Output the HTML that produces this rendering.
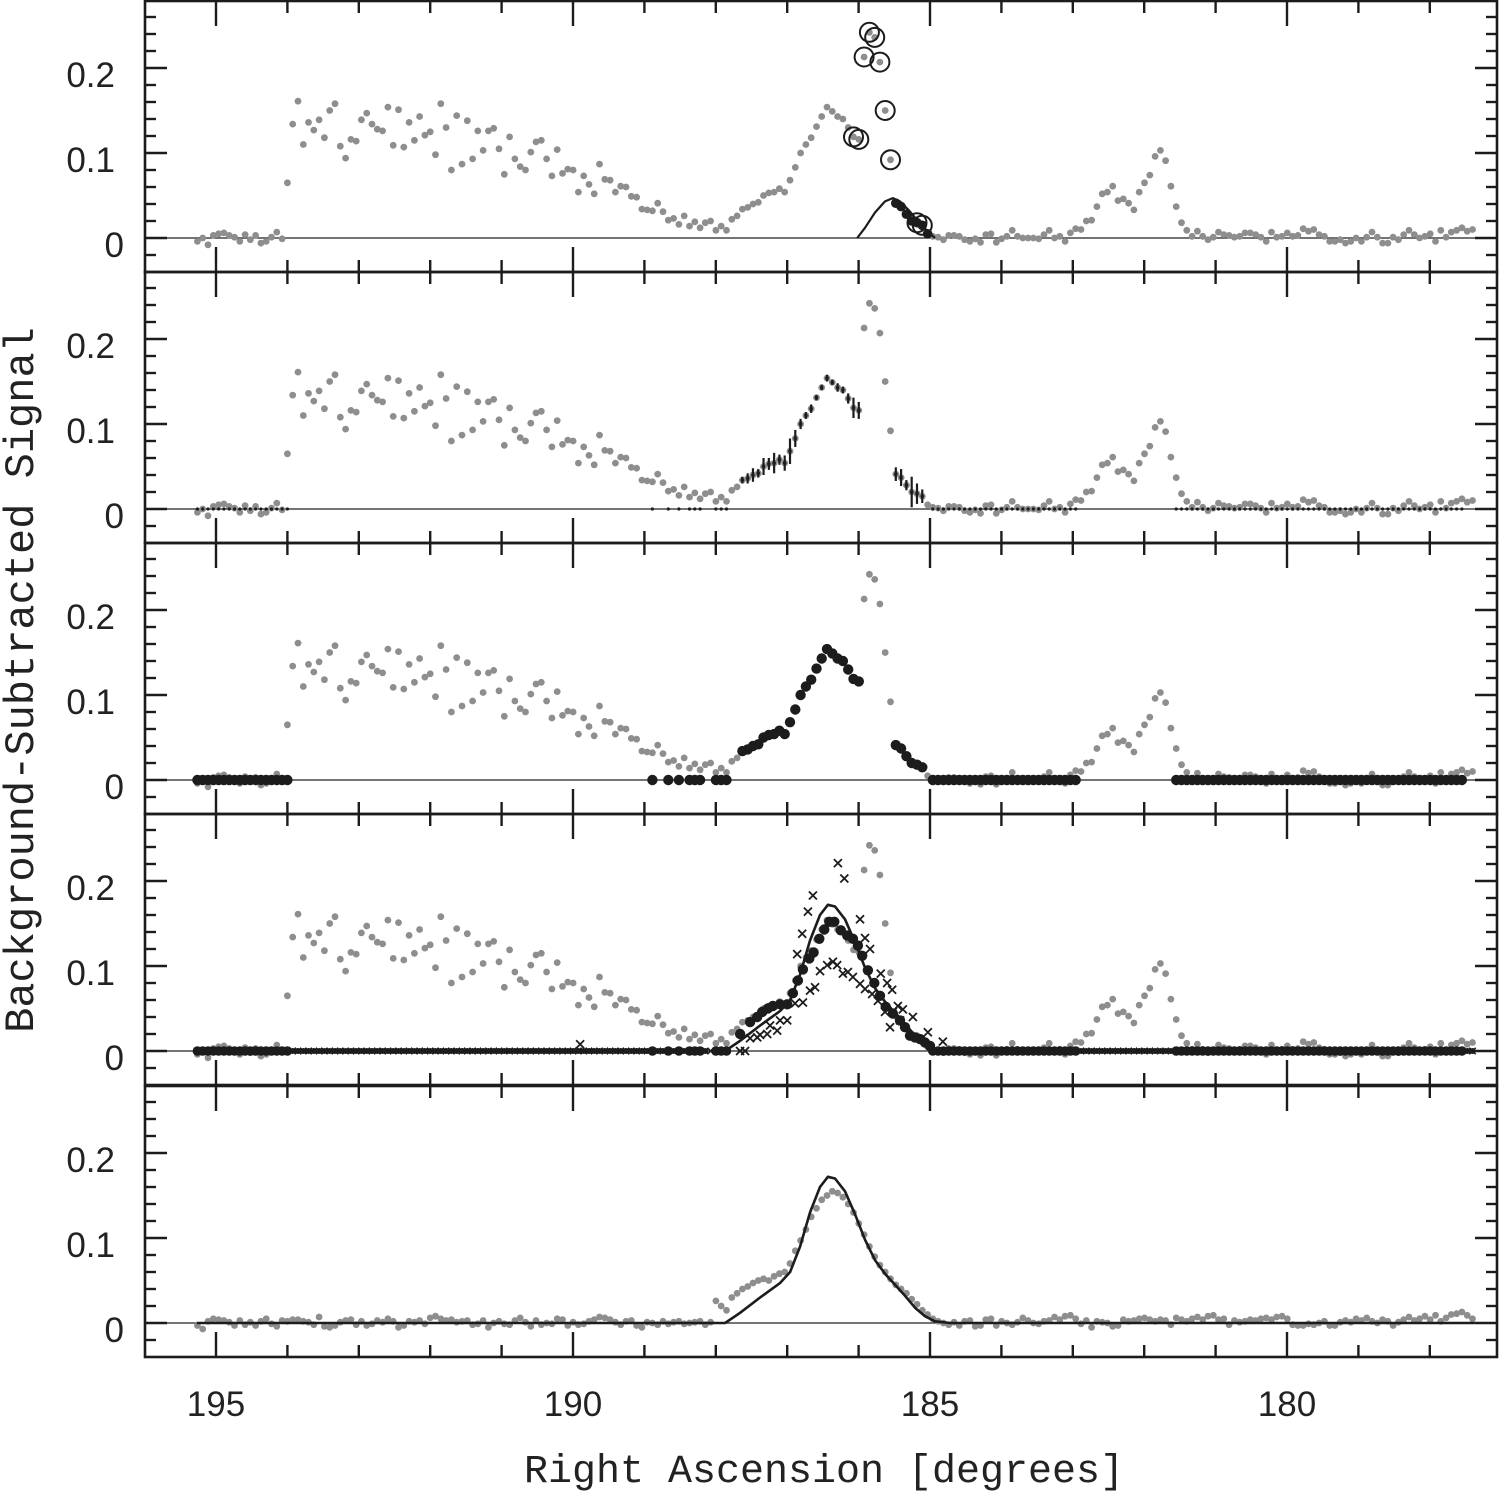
<!DOCTYPE html>
<html><head><meta charset="utf-8"><style>
html,body{margin:0;padding:0;background:#fff;}
svg{display:block;}
</style></head><body>
<svg id="chart" xmlns="http://www.w3.org/2000/svg" width="1503" height="1493" viewBox="0 0 1503 1493">
<rect x="0" y="0" width="1503" height="1493" fill="#fff"/>
<g id="marks"></g>
<g id="axes"></g>
<text x="22" y="680" transform="rotate(-90 22 680)" text-anchor="middle" dominant-baseline="middle" font-family="'Liberation Mono', monospace" font-size="42" fill="#222">Background-Subtracted Signal</text>
<text x="824" y="1482" text-anchor="middle" font-family="'Liberation Mono', monospace" font-size="40" fill="#222">Right Ascension [degrees]</text>
</svg>
<script>
// ---- data ----
const raStart = 195.26;
const raStep = 0.0741;
const grayVals = [-0.004,0.0,-0.008,0.003,0.005,0.006,0.003,0.001,-0.004,0.004,-0.002,0.003,-0.006,-0.004,0.001,0.007,-0.001,
0.065,0.134,0.161,0.110,0.136,0.127,0.139,0.118,0.150,0.158,0.108,0.094,0.116,0.114,0.139,0.147,0.134,0.128,0.126,0.154,0.109,0.151,0.107,
0.136,0.115,0.143,0.121,0.125,0.098,0.158,0.130,0.080,0.144,0.087,0.138,0.093,0.126,0.103,0.126,0.129,0.105,0.075,0.119,0.093,0.084,0.080,
0.101,0.113,0.115,0.093,0.073,0.104,0.076,0.081,0.080,0.054,0.073,0.063,0.052,0.087,0.069,0.068,0.054,0.061,0.060,0.049,0.048,0.034,0.033,
0.032,0.041,0.031,0.021,0.023,0.016,0.026,0.014,0.019,0.012,0.018,0.020,0.009,0.014,0.009,0.022,0.026,0.034,
0.036,0.040,0.042,0.050,0.053,0.054,0.058,0.054,0.068,0.083,0.100,0.110,0.118,0.131,0.143,0.154,0.149,0.143,0.140,0.130,0.119,0.116,
0.213,0.242,0.236,0.207,0.150,0.092,0.041,0.037,0.028,0.020,0.018,0.015,0.005,
0.002,0.001,-0.002,0.003,0.003,0.002,-0.002,-0.004,-0.001,-0.005,0.004,0.005,-0.005,-0.001,0.002,0.009,0.002,0,0,0,-0.001,0.004,0.009,
0,0.002,-0.004,0.006,0.011,0.01,0.02,0.021,0.037,0.052,0.054,0.061,0.044,0.046,0.041,0.033,0.054,0.065,0.074,0.096,
0.103,0.091,0.061,0.037,0.018,0.009,0.002,0.008,0.002,
-0.002,0.001,0.007,0.004,0.003,0.001,0.002,0.006,0.006,0.004,0.001,-0.004,0.007,0.001,0.002,0.006,0.002,0.003,0.011,0.008,
0.01,0.004,0.002,-0.004,-0.004,-0.002,-0.006,-0.004,0,-0.004,0.001,0.007,0.001,-0.006,-0.006,0.001,-0.002,0.004,0.009,0.004,
0,0.002,0.005,-0.004,0.009,0.001,0.007,0.009,0.012,0.008,0.01];
const resVals = [-0.003,-0.007,0.002,0.005,0.004,0.003,0.001,-0.003,0.003,-0.002,0.001,-0.003,0.002,0.005,-0.001,-0.004,0.003,0.002,0.004,0.004,
0.002,0.001,-0.002,0.007,-0.004,-0.005,-0.003,0.001,0.003,0.004,-0.002,0.002,-0.003,-0.001,0.003,0.001,0.005,0.002,-0.005,-0.003,
0.002,0.001,0.003,-0.001,0.006,0.008,0.005,0.003,0.004,0.001,0.002,0.003,-0.002,-0.001,0.003,-0.005,0.000,0.002,-0.001,-0.002,
0.003,0.006,0.001,-0.004,0.003,-0.002,0.000,-0.001,0.005,0.004,-0.003,0.001,-0.002,-0.001,0.002,0.004,0.007,0.006,0.004,0.001,
-0.002,0.002,0.003,-0.003,-0.005,0.001,0.000,-0.002,0.002,-0.001,0.001,0.002,-0.001,0.000,0.001,0.002,-0.002,0.001,
0.026,0.020,0.015,0.030,0.035,0.040,0.043,0.047,0.050,0.052,0.050,0.055,0.058,0.060,0.070,0.085,0.097,0.110,0.125,0.135,
0.145,0.150,0.155,0.153,0.148,0.140,0.130,0.117,0.104,0.090,0.078,0.068,0.060,0.052,0.045,0.040,0.035,0.028,0.022,0.015,0.010,0.005,0.002,
0.000,-0.002,0.001,-0.003,0.002,0.003,-0.004,-0.003,0.004,0.005,-0.003,0.002,0.000,-0.002,0.001,0.006,0.003,0.000,-0.001,0.002,
0.003,0.007,0.004,0.008,0.009,0.005,-0.001,0.003,-0.005,0.002,0.001,0.000,-0.004,-0.003,0.004,0.002,0.003,0.005,0.006,0.004,
0.002,0.004,0.003,-0.002,0.006,0.004,0.002,0.005,0.007,0.004,0.008,0.009,0.004,0.005,-0.002,0.003,0.001,0.002,0.004,0.003,
0.005,0.006,0.004,0.007,0.008,0.005,-0.002,-0.003,-0.003,-0.001,-0.002,0.000,0.002,-0.003,-0.003,0.001,0.003,0.001,0.005,0.003,
0.006,0.002,0.000,0.004,0.002,-0.003,0.001,0.004,0.007,0.003,0.005,0.008,0.004,0.009,0.002,0.006,0.010,0.011,0.013,0.009,0.005];
const bandIdx = [103,104,105,106,107,108,109,110,111,112,113,114,115,116,117,118,119,120,121,122,123,124,125,132,133,134,135,136,137];
const errP2 = [0.004,0.006,0.008,0.005,0.010,0.007,0.012,0.006,0.009,0.015,0.010,0.006,0.004,0.005,0.003,0.003,0.004,0.003,0.005,0.004,0.006,0.012,0.010,0.008,0.010,0.006,0.018,0.012,0.008];
const zeroIdx = [0,1,2,3,4,5,6,7,8,9,10,11,12,13,14,15,16,17,86,89,91,93,94,95,98,99,100,
139,140,141,142,143,144,145,146,147,148,149,150,151,152,153,154,155,156,157,158,159,160,161,162,163,164,165,166,
185,186,187,188,189,190,191,192,193,194,195,196,197,198,199,200,201,202,203,204,205,206,207,208,209,210,
211,212,213,214,215,216,217,218,219,220,221,222,223,224,225,226,227,228,229,230,231,232,233,234,235,236,237,238,239];
const circleIdx = [124,125,126,127,128,129,130,131,136,137];
const p1BlackIdx = [132,133,134,135,136,137,138];
const modelRA = [195.27,187.87,187.66,187.38,187.10,186.96,186.82,186.68,186.54,186.43,186.33,186.19,186.05,185.91,185.77,185.63,185.49,185.35,185.21,185.07,184.93,184.72,177.37];
const modelVal = [0,0,0.012,0.030,0.047,0.060,0.090,0.130,0.160,0.172,0.170,0.155,0.128,0.098,0.074,0.058,0.045,0.032,0.018,0.008,0.002,0,0];
const p1ModelRA = [186.02,185.91,185.77,185.63,185.52,185.42,185.29,185.15,185.01,184.93];
const p1ModelVal = [0,0.012,0.030,0.043,0.047,0.043,0.032,0.018,0.006,0];
const p4BlackRA = [187.66,187.52,187.42,187.35,187.27,187.20,187.10,187.00,186.92,186.85,186.78,186.69,186.63,186.55,186.48,186.41,186.34,186.25,186.16,186.08,186.01,185.95,185.87,185.78,185.70,185.62,185.52,185.42,185.35,185.28,185.21,185.14,185.07,185.00];
const p4BlackVal = [0.020,0.034,0.040,0.046,0.050,0.053,0.055,0.055,0.068,0.083,0.096,0.109,0.116,0.132,0.143,0.152,0.152,0.142,0.136,0.132,0.124,0.112,0.095,0.080,0.065,0.052,0.044,0.036,0.028,0.018,0.016,0.014,0.010,0.006];
const crossHiRA = [186.79,186.86,186.71,186.64,186.29,186.20,185.98,185.91,185.84,185.69,185.60,185.53,185.56,185.45,185.38,185.24,185.03,184.82,189.90];
const crossHiVal = [0.138,0.114,0.164,0.183,0.221,0.203,0.155,0.133,0.120,0.091,0.080,0.072,0.028,0.053,0.049,0.040,0.022,0.011,0.008];
const crossLoRA = [187.66,187.59,187.52,187.42,187.38,187.28,187.24,187.14,187.10,187.00,186.89,186.78,186.68,186.61,186.54,186.44,186.36,186.30,186.22,186.15,186.08,185.98,185.91,185.81,185.73,185.63,185.52,185.42];
const crossLoVal = [0,0,0.015,0.016,0.019,0.020,0.030,0.024,0.036,0.036,0.056,0.057,0.071,0.075,0.094,0.101,0.105,0.101,0.091,0.093,0.087,0.079,0.073,0.067,0.059,0.046,0.046,0.036];
const xTicks = [195,190,185,180];
const yTicks = [0,0.1,0.2];

// ---- scales ----
const X0 = 145, X1 = 1497;
const panelTop = [1,272,543,814,1086];
const PH = 271;
function xOf(ra){ return 216 + (195 - ra) * 71.4; }
function raOfIdx(i){ return raStart - i * raStep; }
function yOf(v, p){ return panelTop[p] + 237 - v * 850; }

const NS = 'http://www.w3.org/2000/svg';
const marks = document.getElementById('marks');
const axes = document.getElementById('axes');
function mk(tag, attrs, parent){
  const e = document.createElementNS(NS, tag);
  for (const k in attrs) e.setAttribute(k, attrs[k]);
  parent.appendChild(e);
  return e;
}
const GRAY = '#8e8e8e', BLK = '#1c1c1c';

function dot(ra, v, p, r, fill, name){
  const c = mk('circle', {cx: xOf(ra).toFixed(1), cy: yOf(v,p).toFixed(1), r: r, fill: fill}, marks);
  
  
  return c;
}
function cross(ra, v, p, s, sw, name){
  const x = xOf(ra), y = yOf(v,p);
  const pth = mk('path', {d: `M${x-s},${y-s}L${x+s},${y+s}M${x-s},${y+s}L${x+s},${y-s}`, stroke: BLK, 'stroke-width': sw, fill: 'none'}, marks);
  
  
}
function curve(raArr, valArr, p, sw, name){
  let d = '';
  raArr.forEach((ra,i)=>{ d += (i? 'L':'M') + xOf(ra).toFixed(1) + ',' + yOf(valArr[i],p).toFixed(1); });
  const pth = mk('path', {d: d, stroke: BLK, 'stroke-width': sw, fill: 'none', 'stroke-linejoin': 'round'}, marks);
  
  
}

for (let p = 0; p < 5; p++){
  const l = mk('line', {x1: X0, x2: X1, y1: yOf(0,p), y2: yOf(0,p), stroke: '#222', 'stroke-width': 1.2}, marks);
  
  
}

for (let p = 0; p < 4; p++){
  grayVals.forEach((v,i)=>{ dot(raOfIdx(i), v, p, 3.4, GRAY, 'data-point'); });
}
resVals.forEach((v,i)=>{ dot(raOfIdx(i), v, 4, 3.4, GRAY, 'residual-point'); });

circleIdx.forEach(i=>{
  const c = mk('circle', {cx: xOf(raOfIdx(i)).toFixed(1), cy: yOf(grayVals[i],0).toFixed(1), r: 9.5, fill: 'none', stroke: BLK, 'stroke-width': 2}, marks);
  
  
});
p1BlackIdx.forEach(i=>{ dot(raOfIdx(i), grayVals[i], 0, 4.8, BLK, 'selected-point'); });
curve(p1ModelRA, p1ModelVal, 0, 2.2, 'model-curve-panel1');

bandIdx.forEach((i,k)=>{
  const x = xOf(raOfIdx(i)), y = yOf(grayVals[i],1), e = errP2[k]*850;
  const b = mk('line', {x1: x, x2: x, y1: y-e, y2: y+e, stroke: BLK, 'stroke-width': 2.2}, marks);
  
  
  dot(raOfIdx(i), grayVals[i], 1, 1.8, BLK, 'band-point');
});
zeroIdx.forEach(i=>{ dot(raOfIdx(i), 0, 1, 1.6, BLK, 'zero-point'); });

bandIdx.forEach(i=>{ dot(raOfIdx(i), grayVals[i], 2, 5.2, BLK, 'band-point'); });
zeroIdx.forEach(i=>{ dot(raOfIdx(i), 0, 2, 5.2, BLK, 'zero-point'); });

grayVals.forEach((v,i)=>{ if (i < 100 || i > 139) cross(raOfIdx(i), 0, 3, 3.2, 1.6, 'zero-cross'); });
zeroIdx.forEach(i=>{ dot(raOfIdx(i), 0, 3, 4.8, BLK, 'zero-point'); });
grayVals.forEach((v,i)=>{ if (i < 97 || i > 139) dot(raOfIdx(i), 0, 3, 3.0, BLK, 'zero-point'); });
p4BlackRA.forEach((ra,k)=>{ dot(ra, p4BlackVal[k], 3, 5.2, BLK, 'fit-point'); });
crossHiRA.forEach((ra,k)=>{ cross(ra, crossHiVal[k], 3, 4, 1.8, 'upper-cross'); });
crossLoRA.forEach((ra,k)=>{ cross(ra, crossLoVal[k], 3, 4, 1.8, 'lower-cross'); });
curve(modelRA.slice(1,-1), modelVal.slice(1,-1), 3, 2.6, 'model-curve-panel4');

curve(modelRA, modelVal, 4, 2.6, 'model-curve-panel5');

for (let p = 0; p < 5; p++){
  const top = panelTop[p], bot = top + PH;
  const fr = mk('rect', {x: X0, y: top, width: X1-X0, height: PH, fill: 'none', stroke: BLK, 'stroke-width': 2.6}, axes);
  
  
  for (let k = -1; k <= 13; k++){
    const v = k*0.02, y = yOf(v,p);
    if (y <= top+2 || y >= bot-2) continue;
    const major = (k % 5 === 0);
    const len = major ? 22 : 11;
    const t1 = mk('line', {x1: X0, x2: X0+len, y1: y, y2: y, stroke: BLK, 'stroke-width': 2.4}, axes);
    
    
    const t2 = mk('line', {x1: X1, x2: X1-len, y1: y, y2: y, stroke: BLK, 'stroke-width': 2.4}, axes);
    
    
  }
  yTicks.forEach(v=>{
    const t = mk('text', {x: v===0 ? 124 : 115, y: yOf(v,p)+19, 'text-anchor': 'end', 'font-family': "'Liberation Sans', sans-serif", 'font-size': 35, fill: '#222'}, axes);
    t.textContent = v===0 ? '0' : v.toFixed(1);
    
    
  });
  for (let ra = 195; ra >= 178; ra--){
    const x = xOf(ra);
    const major = (ra % 5 === 0);
    const len = major ? 25 : 12;
    const a = mk('line', {x1: x, x2: x, y1: top, y2: top+len, stroke: BLK, 'stroke-width': 2.4}, axes);
    
    
    const b = mk('line', {x1: x, x2: x, y1: bot, y2: bot-len, stroke: BLK, 'stroke-width': 2.4}, axes);
    
    
  }
}
xTicks.forEach(ra=>{
  const t = mk('text', {x: xOf(ra), y: 1416, 'text-anchor': 'middle', 'font-family': "'Liberation Sans', sans-serif", 'font-size': 35, fill: '#222'}, axes);
  t.textContent = String(ra);
  
  
});
</script>
</body></html>
